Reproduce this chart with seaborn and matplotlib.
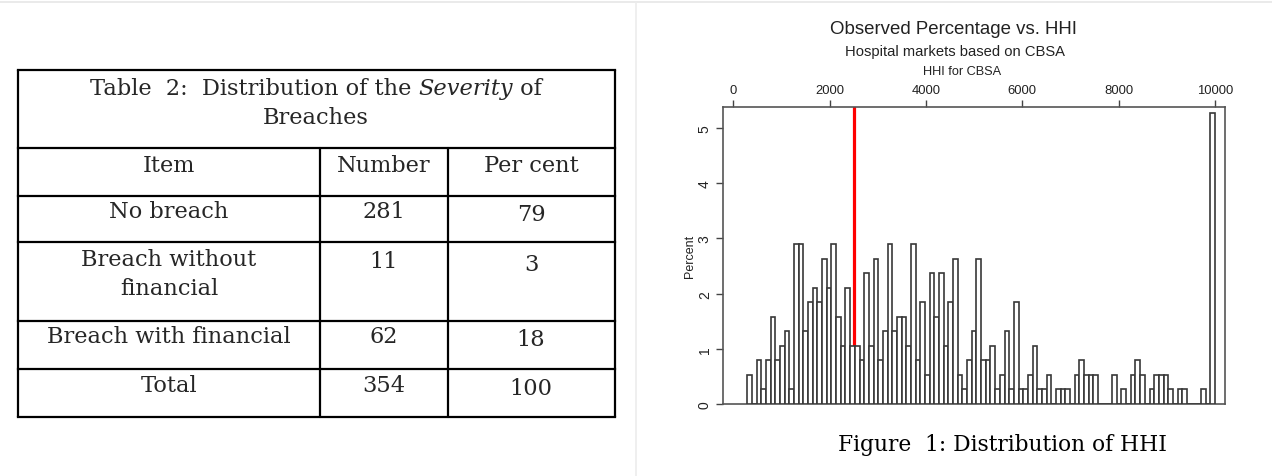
import numpy as np
import pandas as pd
import matplotlib
matplotlib.use("Agg")
import matplotlib.pyplot as plt
import seaborn as sns

# ---------------- data ----------------
table_items = ["No breach", "Breach without\nfinancial", "Breach with financial", "Total"]
table_numbers = ["281", "11", "62", "354"]
table_percents = ["79", "3", "18", "100"]

# histogram: 100 equal-width HHI bins from the minimum HHI to 10000 (counts per bin)
hhi_min = 290
hhi_max = 10000
bin_counts = [2, 0, 3, 1, 3, 6, 3, 4, 5, 1,
              11, 11, 5, 7, 8, 7, 10, 8, 11, 6,
              4, 8, 4, 4, 3, 9, 4, 10, 3, 5,
              11, 5, 6, 6, 4, 11, 3, 7, 2, 9,
              6, 9, 4, 7, 10, 2, 1, 3, 5, 10,
              3, 3, 4, 1, 2, 5, 1, 7, 1, 1,
              2, 4, 1, 1, 2, 0, 1, 1, 1, 0,
              2, 3, 2, 2, 2, 0, 0, 0, 2, 0,
              1, 0, 2, 3, 2, 0, 1, 2, 2, 2,
              1, 0, 1, 1, 0, 0, 0, 1, 0, 20]
threshold_hhi = 2500
x_ticks = [0, 2000, 4000, 6000, 8000, 10000]
y_ticks = [0, 1, 2, 3, 4, 5]

# ---------------- figure ----------------
W, H = 1272, 477
sns.set_style("white")
fig = plt.figure(figsize=(W / 100, H / 100), dpi=100)

def fx(px):
    return px / W

def fy(py):
    return 1 - py / H

# overlay axes in pixel coordinates for table and separators
ov = fig.add_axes([0, 0, 1, 1])
ov.set_xlim(0, W)
ov.set_ylim(H, 0)
ov.axis("off")

ov.plot([0, W], [3, 3], color="#e6e6e6", lw=1.2)
ov.plot([636, 636], [3, H], color="#ececec", lw=1.2)

# table grid
L, R = 18, 615
c1, c2 = 320, 448
rows = [71, 149, 197, 243, 322, 370, 418]
lw = 1.6
for y in rows:
    ov.plot([L, R], [y, y], color="black", lw=lw, solid_capstyle="projecting")
ov.plot([L, L], [rows[0], rows[-1]], color="black", lw=lw)
ov.plot([R, R], [rows[0], rows[-1]], color="black", lw=lw)
ov.plot([c1, c1], [rows[1], rows[-1]], color="black", lw=lw)
ov.plot([c2, c2], [rows[1], rows[-1]], color="black", lw=lw)

serif = "DejaVu Serif"
fs = 16.2
# title line 1 with italic word, centred as a whole
parts = [("Table  2:  Distribution of the ", "normal"), ("Severity", "italic"), (" of", "normal")]
tmp = []
for txt, st in parts:
    t = ov.text(0, 89, txt, ha="left", va="center", fontsize=fs, family=serif, style=st)
    tmp.append(t)
fig.canvas.draw()
widths = [t.get_window_extent().width for t in tmp]
x0 = 316 - sum(widths) / 2
for t, w in zip(tmp, widths):
    t.set_x(x0)
    x0 += w
ov.text(316, 118, "Breaches", ha="center", va="center", fontsize=fs, family=serif)

cx_item, cx_num, cx_pct = 169, 384, 531
ov.text(cx_item, 166, "Item", ha="center", va="center", fontsize=fs, family=serif)
ov.text(cx_num, 166, "Number", ha="center", va="center", fontsize=fs, family=serif)
ov.text(cx_pct, 166, "Per cent", ha="center", va="center", fontsize=fs, family=serif)

row_y = [212, 262, 337, 386]
for item, num, pct, y in zip(table_items, table_numbers, table_percents, row_y):
    if "\n" in item:
        a, b = item.split("\n")
        ov.text(cx_item, y - 2, a, ha="center", va="center", fontsize=fs, family=serif)
        ov.text(cx_item, y + 27, b, ha="center", va="center", fontsize=fs, family=serif)
    else:
        ov.text(cx_item, y, item, ha="center", va="center", fontsize=fs, family=serif)
    ov.text(cx_num, y, num, ha="center", va="center", fontsize=fs, family=serif)
    ov.text(cx_pct, y + 3, pct, ha="center", va="center", fontsize=fs, family=serif)

# ---------------- histogram ----------------
n_bins = len(bin_counts)
counts = np.array(bin_counts, dtype=float)
percent = counts / counts.sum() * 100
edges = np.linspace(hhi_min, hhi_max, n_bins + 1)
centers = (edges[:-1] + edges[1:]) / 2
df = pd.DataFrame({"hhi": centers, "pct": percent})

ax_l, ax_r, ax_t, ax_b = 723, 1225, 108, 405
ax = fig.add_axes([fx(ax_l), fy(ax_b), fx(ax_r - ax_l), fy(ax_t) - fy(ax_b)])
ax.set_facecolor("none")

ax.axvline(threshold_hhi, color="#ff0000", lw=2.3, zorder=1)
sns.histplot(data=df, x="hhi", weights="pct", bins=n_bins, binrange=(hhi_min, hhi_max),
             stat="count", fill=True, color="white", edgecolor="#383838",
             linewidth=1.2, alpha=1, ax=ax, zorder=3)

ax.set_xlim(-214, 10208)
ax.set_ylim(0, 5.38)
ax.xaxis.tick_top()
ax.set_xticks(x_ticks)
ax.set_xticklabels([str(v) for v in x_ticks], fontsize=9.4, family="Liberation Sans", color="#222")
ax.set_yticks(y_ticks)
ax.set_yticklabels([str(v) for v in y_ticks], fontsize=10, family="Liberation Sans",
                   rotation=90, va="center", color="#222")
ax.tick_params(axis="both", which="both", direction="out", length=5, width=1,
               color="#444", pad=3)
ax.tick_params(axis="x", top=True, bottom=False)
ax.tick_params(axis="y", left=True)
ax.set_xlabel("")
ax.set_ylabel("")
for s in ax.spines.values():
    s.set_visible(True)
    s.set_color("#555")
    s.set_linewidth(1.2)

sans = "Liberation Sans"
fig.text(fx(954), fy(30), "Observed Percentage vs. HHI", ha="center", va="center",
         fontsize=13.4, family=sans, color="#222")
fig.text(fx(955), fy(52), "Hospital markets based on CBSA", ha="center", va="center",
         fontsize=10.6, family=sans, color="#222")
fig.text(fx(962), fy(72), "HHI for CBSA", ha="center", va="center",
         fontsize=9.2, family=sans, color="#222")
fig.text(fx(690), fy(256), "Percent", ha="center", va="center", rotation=90,
         fontsize=9, family=sans, color="#222")

fig.text(fx(1003), fy(445), "Figure  1: Distribution of HHI", ha="center", va="center",
         fontsize=15.7, family=serif, color="black")

fig.savefig("out.png", dpi=100)
